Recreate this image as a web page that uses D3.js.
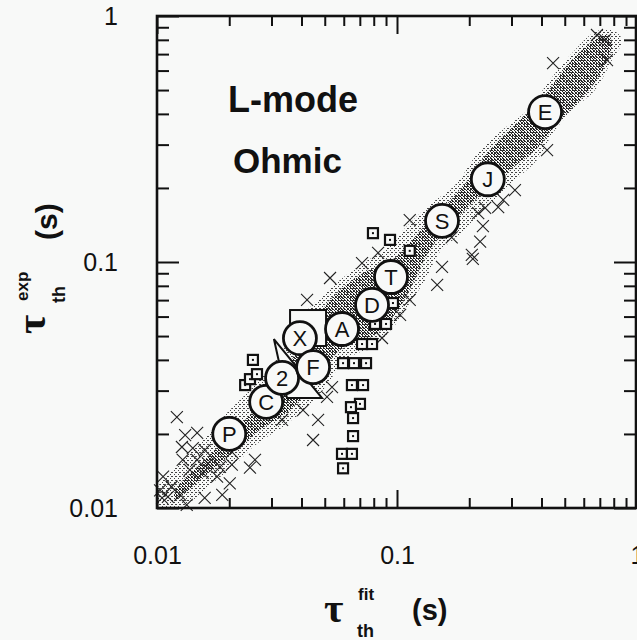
<!DOCTYPE html>
<html>
<head>
<meta charset="utf-8">
<script src="https://cdn.jsdelivr.net/npm/d3@7"></script>
<style>
  body { margin: 0; background: #f8f9f8; }
  svg { display: block; }
</style>
</head>
<body>
<svg id="chart" width="637" height="640"></svg>
<script>
// Tick values
const majorTicks = [0.01, 0.1, 1];
const minorTicks = [0.02, 0.03, 0.04, 0.05, 0.06, 0.07, 0.08, 0.09,
                    0.2, 0.3, 0.4, 0.5, 0.6, 0.7, 0.8, 0.9];

// Labelled device points (circles)
const devLabels = ["P", "C", "2", "X", "F", "A", "D", "T", "S", "J", "E"];
const devFit = [0.020, 0.0285, 0.0332, 0.0394, 0.0447, 0.059, 0.0787, 0.0944, 0.154, 0.239, 0.414];
const devExp = [0.020, 0.027, 0.0338, 0.049, 0.0374, 0.0534, 0.0669, 0.0869, 0.147, 0.217, 0.407];

// Small square points
const sqFit = [0.0233, 0.0244, 0.0261, 0.0251, 0.0794, 0.0935, 0.113, 0.0962, 0.081, 0.090,
               0.0715, 0.0787, 0.0596, 0.0662, 0.0743, 0.0649, 0.0722, 0.0701, 0.0643, 0.0656,
               0.0656, 0.059, 0.0649, 0.0596];
const sqExp = [0.0316, 0.0334, 0.035, 0.040, 0.131, 0.123, 0.111, 0.0681, 0.056, 0.056,
               0.0464, 0.0464, 0.0388, 0.0388, 0.0388, 0.0316, 0.0316, 0.0265, 0.0257, 0.0232,
               0.0196, 0.0166, 0.0166, 0.0145];

// Large open square and triangle
const bigSqFit = [0.0426];
const bigSqExp = [0.0539];
const triFit = [0.0307, 0.0348, 0.0487];
const triExp = [0.0486, 0.028, 0.028];

// Cross points
const crossFit = [0.0121, 0.0131, 0.0147, 0.0127, 0.0141, 0.0158, 0.0128, 0.0147, 0.0163, 0.0183,
                  0.0205, 0.0137, 0.0155, 0.0178, 0.0201, 0.0106, 0.0103, 0.0115, 0.0125, 0.0111,
                  0.0105, 0.0158, 0.0256, 0.0244, 0.0205, 0.0406, 0.0469, 0.0447, 0.0536, 0.0511,
                  0.0332, 0.0715, 0.0526, 0.0422, 0.0834, 0.103, 0.0866, 0.207, 0.154, 0.147,
                  0.113, 0.422, 0.31, 0.277, 0.264, 0.233, 0.218, 0.228, 0.222, 0.205,
                  0.169, 0.113, 0.447, 0.736, 0.75, 0.681, 0.0133, 0.0187];
const crossExp = [0.0234, 0.0198, 0.0202, 0.0177, 0.0175, 0.0172, 0.0157, 0.0157, 0.0152, 0.0147,
                  0.015, 0.0143, 0.0139, 0.0134, 0.0126, 0.0134, 0.0118, 0.0122, 0.0113, 0.0111,
                  0.011, 0.011, 0.0157, 0.0146, 0.0169, 0.025, 0.0228, 0.0189, 0.031, 0.0283,
                  0.0228, 0.099, 0.0861, 0.0701, 0.109, 0.0609, 0.0491, 0.103, 0.0955, 0.0807,
                  0.0701, 0.285, 0.196, 0.179, 0.167, 0.166, 0.158, 0.140, 0.121, 0.107,
                  0.126, 0.148, 0.644, 0.799, 0.662, 0.837, 0.0103, 0.0113];

// Envelope of the dense data cloud
const bandUpFit = [0.0101, 0.0125, 0.0158, 0.0201, 0.0256, 0.0325, 0.0406, 0.0478, 0.0579, 0.0736,
                   0.0891, 0.111, 0.137, 0.175, 0.222, 0.282, 0.358, 0.434, 0.552, 0.668, 0.787];
const bandUpExp = [0.0121, 0.0154, 0.0193, 0.025, 0.0316, 0.0419, 0.0609, 0.0714, 0.0845, 0.1,
                   0.112, 0.141, 0.171, 0.206, 0.285, 0.351, 0.423, 0.55, 0.728, 0.861, 0.877];
const bandLoFit = [0.866, 0.787, 0.668, 0.552, 0.455, 0.383, 0.31, 0.244, 0.192, 0.151,
                   0.131, 0.113, 0.0981, 0.081, 0.0607, 0.0526, 0.0455, 0.0341, 0.0256, 0.0211,
                   0.0166, 0.0131, 0.0103];
const bandLoExp = [0.799, 0.662, 0.500, 0.423, 0.344, 0.260, 0.215, 0.171, 0.135, 0.110,
                   0.0845, 0.0681, 0.0555, 0.046, 0.040, 0.0331, 0.0275, 0.0217, 0.018, 0.015,
                   0.0124, 0.0103, 0.0101];

// Darker core of the cloud
const coreUpFit = [0.0119, 0.0166, 0.0233, 0.031, 0.0394, 0.0526, 0.0701, 0.0981, 0.131, 0.183,
                   0.244, 0.325, 0.414, 0.526, 0.668, 0.757];
const coreUpExp = [0.0118, 0.0164, 0.0228, 0.0302, 0.046, 0.0701, 0.0885, 0.104, 0.141, 0.196,
                   0.285, 0.378, 0.477, 0.650, 0.799, 0.837];
const coreLoFit = [0.787, 0.701, 0.579, 0.478, 0.376, 0.296, 0.222, 0.175, 0.137, 0.1155,
                   0.101, 0.081, 0.0579, 0.0478, 0.0358, 0.0269, 0.0201, 0.0151, 0.0119];
const coreLoExp = [0.762, 0.575, 0.456, 0.378, 0.285, 0.237, 0.187, 0.148, 0.112, 0.0807,
                   0.0638, 0.0505, 0.0439, 0.0347, 0.025, 0.0208, 0.0164, 0.013, 0.0108];

const svg = d3.select("#chart");
const ink = "#111";
const paper = "#f8f9f8";

const x = d3.scaleLog().domain([0.01, 1]).range([157, 637]);
const y = d3.scaleLog().domain([0.01, 1]).range([508, 16]);

// stipple patterns for the cloud
const defs = svg.append("defs");
const light = defs.append("pattern").attr("id", "stipLight")
  .attr("patternUnits", "userSpaceOnUse").attr("width", 4).attr("height", 4);
[[0, 0], [2, 2], [3, 0]].forEach(p => light.append("rect")
  .attr("x", p[0]).attr("y", p[1]).attr("width", 1).attr("height", 1).attr("fill", "#444"));
const dark = defs.append("pattern").attr("id", "stipDark")
  .attr("patternUnits", "userSpaceOnUse").attr("width", 3).attr("height", 3);
[[0, 0], [1, 1], [2, 2], [2, 0]].forEach(p => dark.append("rect")
  .attr("x", p[0]).attr("y", p[1]).attr("width", 1).attr("height", 1).attr("fill", "#222"));

function ring(upF, upE, loF, loE) {
  const pts = upF.map((v, i) => [x(v), y(upE[i])])
    .concat(loF.map((v, i) => [x(v), y(loE[i])]));
  return d3.line().curve(d3.curveCatmullRomClosed)(pts);
}

svg.append("path").attr("d", ring(bandUpFit, bandUpExp, bandLoFit, bandLoExp))
  .attr("fill", "url(#stipLight)");
svg.append("path").attr("d", ring(coreUpFit, coreUpExp, coreLoFit, coreLoExp))
  .attr("fill", "url(#stipDark)");

// crosses
const cs = 6;
svg.append("g").selectAll("path")
  .data(crossFit.map((v, i) => [v, crossExp[i]]))
  .enter().append("path")
  .attr("d", d => {
    const cx = x(d[0]), cy = y(d[1]);
    return `M${cx - cs},${cy - cs}L${cx + cs},${cy + cs}M${cx - cs},${cy + cs}L${cx + cs},${cy - cs}`;
  })
  .attr("stroke", "#222").attr("stroke-width", 1.1).attr("fill", "none");

// big open square
const bs = 36;
svg.append("g").selectAll("rect")
  .data(bigSqFit.map((v, i) => [v, bigSqExp[i]]))
  .enter().append("rect")
  .attr("x", d => x(d[0]) - bs / 2).attr("y", d => y(d[1]) - bs / 2)
  .attr("width", bs).attr("height", bs)
  .attr("fill", paper).attr("stroke", ink).attr("stroke-width", 2);

// big triangle
svg.append("path")
  .attr("d", d3.line()(triFit.map((v, i) => [x(v), y(triExp[i])])) + "Z")
  .attr("fill", paper).attr("stroke", ink).attr("stroke-width", 2);

// small dotted squares
const ss = 10;
const sq = svg.append("g").selectAll("g")
  .data(sqFit.map((v, i) => [v, sqExp[i]]))
  .enter().append("g")
  .attr("transform", d => `translate(${x(d[0])},${y(d[1])})`);
sq.append("rect").attr("x", -ss / 2).attr("y", -ss / 2).attr("width", ss).attr("height", ss)
  .attr("fill", paper).attr("stroke", ink).attr("stroke-width", 2.2);
sq.append("rect").attr("x", -1).attr("y", -1).attr("width", 2).attr("height", 2).attr("fill", ink);

// labelled circles
const dev = svg.append("g").selectAll("g")
  .data(devLabels.map((l, i) => ({ l, f: devFit[i], e: devExp[i] })))
  .enter().append("g")
  .attr("transform", d => `translate(${x(d.f)},${y(d.e)})`);
dev.append("circle").attr("r", 16.5)
  .attr("fill", paper).attr("stroke", ink).attr("stroke-width", 2.8);
dev.append("text").text(d => d.l)
  .attr("text-anchor", "middle").attr("dy", "0.36em")
  .attr("font-family", "Liberation Sans, Arial, sans-serif").attr("font-size", 22)
  .attr("fill", ink);

// ticks on all four sides (inward)
function ticks(gen, tx, ty, vals, size) {
  const g = svg.append("g").attr("transform", `translate(${tx},${ty})`)
    .call(gen.tickValues(vals).tickSize(-size).tickFormat(""));
  g.select(".domain").remove();
  g.selectAll("line").attr("stroke", ink).attr("stroke-width", 2);
}
ticks(d3.axisBottom(x), 0, 508, minorTicks, 10);
ticks(d3.axisBottom(x), 0, 508, majorTicks, 18);
ticks(d3.axisTop(x), 0, 16, minorTicks, 10);
ticks(d3.axisTop(x), 0, 16, majorTicks, 18);
ticks(d3.axisLeft(y), 157, 0, minorTicks, 12);
ticks(d3.axisLeft(y), 157, 0, majorTicks, 22);
ticks(d3.axisRight(y), 636, 0, minorTicks, 12);
ticks(d3.axisRight(y), 636, 0, majorTicks, 22);

// frame
svg.append("rect").attr("x", 157).attr("y", 16).attr("width", 479).attr("height", 492)
  .attr("fill", "none").attr("stroke", ink).attr("stroke-width", 2.6);

// tick labels
const fmt = d => d === 1 ? "1" : String(d);
const labFont = "Liberation Sans, Arial, sans-serif";
const xl = svg.append("g").attr("transform", "translate(0,508)")
  .call(d3.axisBottom(x).tickValues(majorTicks).tickSize(0).tickPadding(38).tickFormat(fmt));
xl.select(".domain").remove();
xl.selectAll("text").attr("font-family", labFont).attr("font-size", 25).attr("fill", ink);
const yl = svg.append("g").attr("transform", "translate(157,0)")
  .call(d3.axisLeft(y).tickValues(majorTicks).tickSize(0).tickPadding(39).tickFormat(fmt));
yl.select(".domain").remove();
yl.selectAll("text").attr("font-family", labFont).attr("font-size", 25).attr("fill", ink);

// in-plot annotations
svg.append("text").attr("x", 228).attr("y", 112).text("L-mode")
  .attr("font-family", labFont).attr("font-weight", "bold").attr("font-size", 36).attr("fill", ink);
svg.append("text").attr("x", 233).attr("y", 173).text("Ohmic")
  .attr("font-family", labFont).attr("font-weight", "bold").attr("font-size", 35).attr("fill", ink);

// axis titles
const tauFont = "Liberation Serif, Times New Roman, serif";
const xt = svg.append("g");
xt.append("text").attr("x", 324).attr("y", 622).text("τ")
  .attr("font-family", tauFont).attr("font-weight", "bold").attr("font-size", 42).attr("fill", ink);
xt.append("text").attr("x", 358).attr("y", 600).text("fit")
  .attr("font-family", labFont).attr("font-weight", "bold").attr("font-size", 17).attr("fill", ink);
xt.append("text").attr("x", 357).attr("y", 637).text("th")
  .attr("font-family", labFont).attr("font-weight", "bold").attr("font-size", 18).attr("fill", ink);
xt.append("text").attr("x", 412).attr("y", 620).text("(s)")
  .attr("font-family", labFont).attr("font-weight", "bold").attr("font-size", 29).attr("fill", ink);

const yt = svg.append("g").attr("transform", "translate(45,334) rotate(-90)");
yt.append("text").attr("x", 0).attr("y", 0).text("τ")
  .attr("font-family", tauFont).attr("font-weight", "bold").attr("font-size", 42).attr("fill", ink);
yt.append("text").attr("x", 33).attr("y", -17).text("exp")
  .attr("font-family", labFont).attr("font-weight", "bold").attr("font-size", 17).attr("fill", ink);
yt.append("text").attr("x", 31).attr("y", 20).text("th")
  .attr("font-family", labFont).attr("font-weight", "bold").attr("font-size", 18).attr("fill", ink);
yt.append("text").attr("x", 94).attr("y", 12).text("(s)")
  .attr("font-family", labFont).attr("font-weight", "bold").attr("font-size", 30).attr("fill", ink);
</script>
</body>
</html>
